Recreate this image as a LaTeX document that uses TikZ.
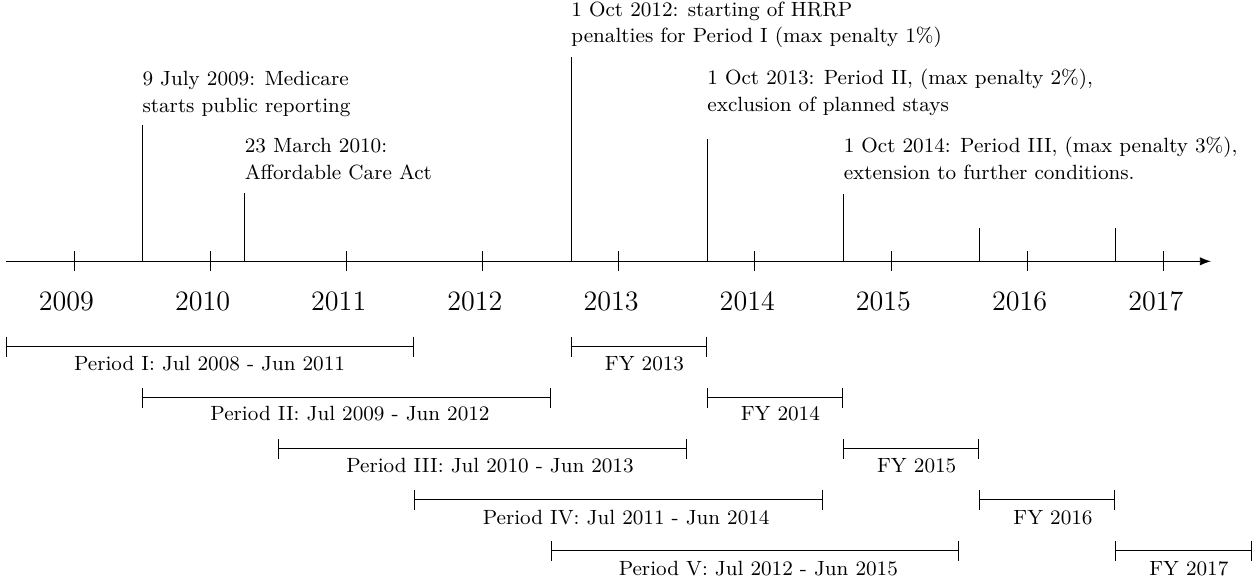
\documentclass[tikz,border=0pt]{standalone}
\usetikzlibrary{arrows.meta}
\begin{document}
\begin{tikzpicture}[x=0.4274pt,y=-0.4274pt,
  axisline/.style={line width=0.4pt,-{Latex[length=4.8pt,width=3.6pt]}},
  tickline/.style={line width=0.4pt},
  eventline/.style={line width=0.4pt},
  spanline/.style={line width=0.4pt,{Bar[width=8.6pt]}-{Bar[width=8.6pt]}},
  evtext/.style={anchor=south west,inner sep=0pt,text depth=0pt,align=left,font=\fontsize{8.8}{11.4}\selectfont},
  yeartext/.style={anchor=base,inner sep=0pt,font=\large},
  spantext/.style={anchor=base,inner sep=0pt,font=\fontsize{8.8}{11.4}\selectfont}]
\useasboundingbox (0,0) rectangle (1255,584);

% axis
\coordinate (axS) at (6,261.3);
\coordinate (axE) at (1211,261.3);
\draw[axisline] (axS) -- (axE);

% year ticks and labels
\foreach \i/\yr in {0/2009,1/2010,2/2011,3/2012,4/2013,5/2014,6/2015,7/2016,8/2017}{
  \pgfmathsetmacro{\xx}{74+136.17*\i}
  \draw[tickline] (\xx,251.3) -- (\xx,271.3);
  \node[yeartext] (y\yr) at (\xx-7.6,310) {\yr};
}

% events
\coordinate (e1b) at (142.1,261.3);  \coordinate (e1t) at (142.1,125.3);
\coordinate (e2b) at (244.4,261.3);  \coordinate (e2t) at (244.4,193.3);
\coordinate (e3b) at (571,261.3);    \coordinate (e3t) at (571,57.3);
\coordinate (e4b) at (707,261.3);    \coordinate (e4t) at (707,139);
\coordinate (e5b) at (843.3,261.3);  \coordinate (e5t) at (843.3,194.3);
\coordinate (e6b) at (979.3,261.3);  \coordinate (e6t) at (979.3,227.7);
\coordinate (e7b) at (1115.3,261.3); \coordinate (e7t) at (1115.3,227.7);
\foreach \e in {1,...,7}{\draw[eventline] (e\e b) -- (e\e t);}

\node[evtext] (t1) at (142.1,112.7) {9 July 2009: Medicare\\starts public reporting};
\node[evtext] (t2) at (244.4,180) {23 March 2010:\\Affordable Care Act};
\node[evtext] (t3) at (571,43.3) {1 Oct 2012: starting of HRRP\\penalties for Period I (max penalty 1\%)};
\node[evtext] (t4) at (707,111.7) {1 Oct 2013: Period II, (max penalty 2\%),\\exclusion of planned stays};
\node[evtext] (t5) at (843.3,180) {1 Oct 2014: Period III, (max penalty 3\%),\\extension to further conditions.};

% periods
\coordinate (p1a) at (6,346.7);     \coordinate (p1b) at (414.4,346.7);
\coordinate (p2a) at (142.1,397.7); \coordinate (p2b) at (550.5,397.7);
\coordinate (p3a) at (278.3,448.7); \coordinate (p3b) at (686.7,448.7);
\coordinate (p4a) at (414.4,499.7); \coordinate (p4b) at (823,499.7);
\coordinate (p5a) at (550.5,550.7); \coordinate (p5b) at (959,550.7);
\foreach \p in {1,...,5}{\draw[spanline] (p\p a) -- (p\p b);}
\node[spantext] (p1l) at (209.5,370) {Period I: Jul 2008 - Jun 2011};
\node[spantext] (p2l) at (350,420.7) {Period II: Jul 2009 - Jun 2012};
\node[spantext] (p3l) at (490,472.7) {Period III: Jul 2010 - Jun 2013};
\node[spantext] (p4l) at (626.2,524) {Period IV: Jul 2011 - Jun 2014};
\node[spantext] (p5l) at (758.3,575) {Period V: Jul 2012 - Jun 2015};

% fiscal years
\coordinate (f1a) at (571,346.7);    \coordinate (f1b) at (707,346.7);
\coordinate (f2a) at (707,397.7);    \coordinate (f2b) at (843.3,397.7);
\coordinate (f3a) at (843.3,448.7);  \coordinate (f3b) at (979.3,448.7);
\coordinate (f4a) at (979.3,499.7);  \coordinate (f4b) at (1115.3,499.7);
\coordinate (f5a) at (1115.3,550.7); \coordinate (f5b) at (1251.5,550.7);
\foreach \f in {1,...,5}{\draw[spanline] (f\f a) -- (f\f b);}
\node[spantext] (f1l) at (644.5,370) {FY 2013};
\node[spantext] (f2l) at (780.3,420.7) {FY 2014};
\node[spantext] (f3l) at (916.7,472.7) {FY 2015};
\node[spantext] (f4l) at (1053,524) {FY 2016};
\node[spantext] (f5l) at (1188.8,575) {FY 2017};
\end{tikzpicture}
\end{document}
